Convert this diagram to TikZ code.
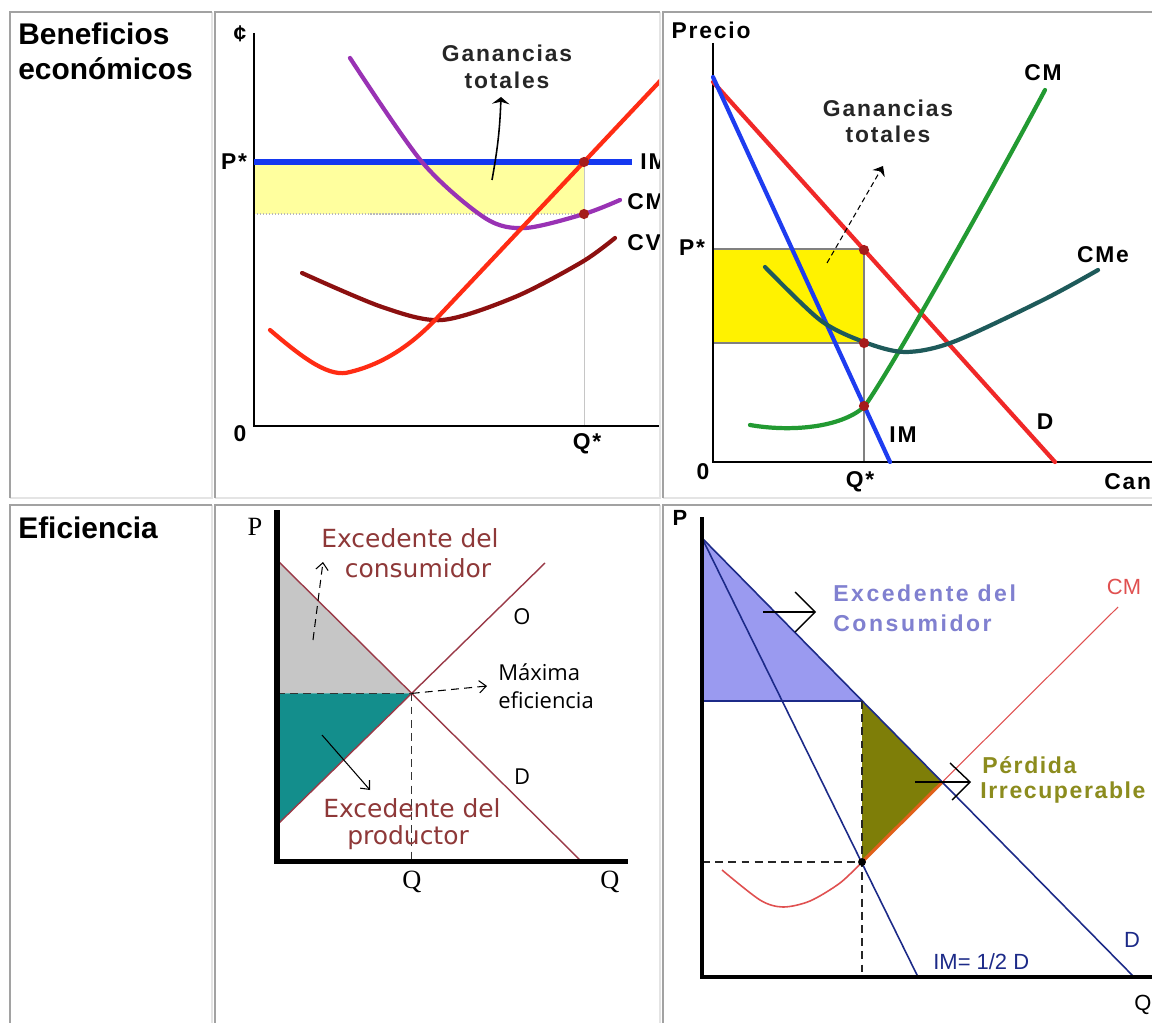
\documentclass[tikz,border=0pt]{standalone}
\usepackage{fontspec}
\setmainfont{Liberation Sans}
\newfontfamily\lsb[LetterSpace=8]{Liberation Sans}
\newfontfamily\lsbw[LetterSpace=11]{Liberation Sans}
\newfontfamily\lsbo[LetterSpace=7]{Liberation Sans}
\newfontfamily\dvs{DejaVu Sans}
\newfontfamily\opens{Open Sans}
\newfontfamily\lserif{Liberation Serif}
\usetikzlibrary{arrows.meta,calc}
\definecolor{celldark}{HTML}{A2A2A2}
\definecolor{celllight}{HTML}{E4E4E4}
\definecolor{lightyel}{HTML}{FFFF9E}
\definecolor{imblue}{HTML}{1438F0}
\definecolor{purp}{HTML}{9932B4}
\definecolor{cvred}{HTML}{8C1010}
\definecolor{cmred}{HTML}{FF2C14}
\definecolor{dotred}{HTML}{A51C1C}
\definecolor{dred}{HTML}{F02828}
\definecolor{dblue}{HTML}{1E3CF0}
\definecolor{cmgreen}{HTML}{229A32}
\definecolor{cmeteal}{HTML}{1E5A5A}
\definecolor{csgray}{HTML}{C6C6C6}
\definecolor{psteal}{HTML}{138E8C}
\definecolor{linethree}{HTML}{9A3A48}
\definecolor{txtthree}{HTML}{8E3838}
\definecolor{csblue}{HTML}{9A9AF0}
\definecolor{dwolive}{HTML}{7E7E08}
\definecolor{linefour}{HTML}{1C2A88}
\definecolor{redfour}{HTML}{E05050}
\definecolor{txtblue}{HTML}{8080D0}
\definecolor{txtolive}{HTML}{8C8C1E}
\definecolor{orangefour}{HTML}{E0601A}
\begin{document}
\begin{tikzpicture}[x=0.02cm,y=-0.02cm,
  cdark/.style={draw=celldark,line width=0.85pt},
  clight/.style={draw=celllight,line width=0.85pt},
  hdr/.style={font=\fontsize{17}{20}\selectfont\bfseries,inner sep=0pt,anchor=base west},
  blab/.style={font=\lsb\fontsize{13}{15}\selectfont\bfseries,inner sep=0pt},
  glab/.style={font=\lsb\fontsize{13}{15}\selectfont\bfseries,inner sep=0pt,text=black!85},
  thick curve/.style={line width=2.4pt,line cap=round,line join=round},
  rdot/.style={circle,fill=dotred,inner sep=0pt,minimum size=5.8pt},
  exthree/.style={font=\dvs\fontsize{14.2}{16}\selectfont,text=txtthree,inner sep=0pt},
  osl/.style={font=\opens\fontsize{12.5}{14}\selectfont,inner sep=0pt},
  exfour/.style={font=\lsbw\fontsize{13.1}{15}\selectfont\bfseries,inner sep=0pt,anchor=west},
  olfour/.style={font=\lsbo\fontsize{13.1}{15}\selectfont\bfseries,inner sep=0pt,anchor=west,text=txtolive},
  thinlab/.style={font=\fontsize{12.5}{14}\selectfont,inner sep=0pt},
  barb/.style={-{Straight Barb[length=4pt,width=7pt]}},
  dsh/.style={dash pattern=on 4.5pt off 3pt}
]
\useasboundingbox (0,0) rectangle (1152,1023);
\fill[white] (0,0) rectangle (1152,1023);

% ---------- table cells ----------
\draw[clight] (212,12) -- (212,498) -- (10,498);
\draw[cdark] (10,498) -- (10,12) -- (212,12);
\draw[clight] (660,12) -- (660,498) -- (215,498);
\draw[cdark] (215,498) -- (215,12) -- (660,12);
\draw[clight] (663,498) -- (1152,498);
\draw[cdark] (663,498) -- (663,12) -- (1152,12);
\draw[clight] (212,505) -- (212,1023);
\draw[cdark] (10,1023) -- (10,505) -- (212,505);
\draw[clight] (660,505) -- (660,1023);
\draw[cdark] (215,1023) -- (215,505) -- (660,505);
\draw[cdark] (663,1023) -- (663,505) -- (1152,505);

\node[hdr] (h1a) at (18,45) {Beneficios};
\node[hdr] (h1b) at (18,80) {económicos};
\node[hdr] (h2) at (18,538) {Eficiencia};

% ---------- panel 1 ----------
\begin{scope}
\clip (216,13) rectangle (659,497);
\fill[lightyel] (254,162) rectangle (584,214);
\draw[gray!55,densely dotted,line width=0.7pt] (254,214) -- (584,214);
\draw[gray!45,line width=0.5pt] (584,162) -- (584,426);
\draw[black,line width=0.9pt] (254,33) -- (254,426) -- (659,426);
\draw[imblue,line width=3.4pt] (254,162) -- (632,162);
\draw[cvred,thick curve] plot[smooth] coordinates {(302,273) (382,307) (442,320) (515,297) (582,262) (615,238)};
\draw[purp,thick curve] plot[smooth] coordinates {(350,58) (422,162) (485,218) (525,228) (584,214) (620,200)};
\draw[cmred,thick curve] (270,330) .. controls (305,360) and (330,378) .. (350,372) .. controls (375,366) and (405,352) .. (437,318) -- (662,79);
\node[rdot] (p1d1) at (584,162) {};
\node[rdot] (p1d2) at (584,214) {};
\node[blab] (p1c) at (240,34) {¢};
\node[blab] (p1p) at (234,162) {P*};
\node[blab] (p1z) at (240,434) {0};
\node[blab] (p1q) at (587,444) {Q*};
\node[blab,anchor=west] (p1im) at (640,162) {IM};
\node[blab,anchor=west] (p1cm) at (627,202) {CM};
\node[blab,anchor=west] (p1cv) at (627,243) {CV};
\node[glab] (p1g1) at (507,53) {Ganancias};
\node[glab] (p1g2) at (507,80) {totales};
\coordinate (p1as) at (492,180);
\coordinate (p1ae) at (501,97);
\draw[line width=0.9pt,-{Stealth[length=4pt,width=10pt]}] (p1as) to[bend right=4] (p1ae);
\end{scope}

% ---------- panel 2 ----------
\begin{scope}
\clip (664,13) rectangle (1152,497);
\fill[yellow] (713,249) rectangle (864,343);
\draw[gray,line width=0.6pt] (713,249) -- (864,249) -- (864,462);
\draw[gray,line width=0.6pt] (713,343) -- (864,343);
\draw[black,line width=1.2pt] (713,43) -- (713,462) -- (1152,462);
\draw[dred,thick curve] (713,82) -- (1055,462);
\draw[dblue,thick curve] (713,77) -- (890,462);
\draw[cmgreen,thick curve] (750,425) .. controls (790,432) and (840,428) .. (864,407) .. controls (890,372) and (1000,175) .. (1045,90);
\draw[cmeteal,thick curve] plot[smooth] coordinates {(765,267) (820,320) (864,342) (905,352) (953,342) (1043,300) (1098,270)};
\node[rdot] (p2d1) at (864,250) {};
\node[rdot] (p2d2) at (864,343) {};
\node[rdot] (p2d3) at (864,406) {};
\node[blab] (p2pr) at (711,30) {Precio};
\node[blab] (p2cm) at (1043,73) {CM};
\node[blab] (p2p) at (692,248) {P*};
\node[blab] (p2cme) at (1103,255) {CMe};
\node[blab] (p2im) at (903,435) {IM};
\node[blab] (p2d) at (1045,422) {D};
\node[blab] (p2z) at (703,472) {0};
\node[blab] (p2q) at (860,482) {Q*};
\node[blab,anchor=west] (p2can) at (1104,482) {Can};
\node[glab] (p2g1) at (888,108) {Ganancias};
\node[glab] (p2g2) at (888,134) {totales};
\coordinate (p2as) at (827,263);
\coordinate (p2ae) at (883,166);
\draw[line width=0.6pt,densely dashed,-{Stealth[length=5pt,width=8pt]}] (p2as) -- (p2ae);
\end{scope}

% ---------- panel 3 ----------
\begin{scope}
\clip (216,506) rectangle (659,1023);
\coordinate (eq) at (411.7,693.4);
\fill[csgray] (277,560) -- (eq) -- (277,693.4) -- cycle;
\fill[psteal] (277,693.4) -- (eq) -- (277,825) -- cycle;
\draw[linethree,line width=0.8pt] (277,560) -- (580,860);
\draw[linethree,line width=0.8pt] (277,825) -- (545,563);
\draw[black!80,dsh,line width=0.7pt] (277,693.4) -- (eq);
\draw[black!80,dsh,line width=0.7pt] (eq) -- (411.7,860);
\draw[black,line width=3.2pt] (277,510) -- (277,861.5) -- (628,861.5);
\node[font=\lserif\fontsize{15}{17}\selectfont,inner sep=0pt] (p3p) at (255,527) {P};
\node[font=\lserif\fontsize{15}{17}\selectfont,inner sep=0pt] (p3q1) at (412,882) {Q};
\node[font=\lserif\fontsize{15}{17}\selectfont,inner sep=0pt] (p3q2) at (610,882) {Q};
\node[exthree] (p3e1) at (410,538) {Excedente del};
\node[exthree] (p3e2) at (418,568) {consumidor};
\node[exthree] (p3e3) at (412,808) {Excedente del};
\node[exthree] (p3e4) at (408,838) {productor};
\node[osl,text=black] (p3o) at (522,617) {O};
\node[osl,text=black] (p3d) at (522,777) {D};
\node[osl,anchor=west] (p3m1) at (498,672) {Máxima};
\node[osl,anchor=west] (p3m2) at (498,700) {eficiencia};
\coordinate (p3a1s) at (313,640);
\coordinate (p3a1e) at (323,562);
\draw[line width=0.6pt,dsh,barb] (p3a1s) -- (p3a1e);
\coordinate (p3a2e) at (487,686);
\draw[line width=0.6pt,dsh,barb] (eq) -- (p3a2e);
\coordinate (p3a3s) at (322,735);
\coordinate (p3a3e) at (370,790);
\draw[line width=0.6pt,barb] (p3a3s) -- (p3a3e);
\end{scope}

% ---------- panel 4 ----------
\begin{scope}
\clip (664,506) rectangle (1152,1023);
\coordinate (top) at (702,538);
\coordinate (pm) at (862,701);
\coordinate (qm) at (862,862);
\coordinate (dw) at (942.3,782.2);
\fill[csblue] (top) -- (pm) -- (702,701) -- cycle;
\fill[dwolive] (pm) -- (dw) -- (qm) -- cycle;
\draw[redfour,line width=0.6pt] (qm) -- (1118,607);
\draw[orangefour,line width=1.8pt] (qm) -- (dw);
\draw[redfour,line width=0.9pt] plot[smooth] coordinates {(722,870) (760,900) (783,907) (810,901) (840,883) (862,862)};
\draw[linefour,line width=0.9pt] (top) -- (1134,977);
\draw[linefour,line width=0.9pt] (top) -- (918,977);
\draw[linefour,line width=0.9pt] (702,701) -- (pm);
\draw[black!85,dsh,line width=0.9pt] (pm) -- (862,977);
\draw[black!85,dsh,line width=0.9pt] (702,862) -- (qm);
\node[circle,fill=black,inner sep=0pt,minimum size=4.5pt] (p4dot) at (qm) {};
\draw[black,line width=2.4pt] (702,517) -- (702,977) -- (1152,977);
\node[font=\fontsize{12.5}{14}\selectfont\bfseries,inner sep=0pt] (p4p) at (680,518) {P};
\node[thinlab,text=redfour] (p4cm) at (1124,587) {CM};
\node[exfour,text=txtblue] (p4e1) at (833,593) {Excedente del};
\node[exfour,text=txtblue] (p4e2) at (833,623) {Consumidor};
\node[olfour] (p4l1) at (982,765) {Pérdida};
\node[olfour] (p4l2) at (980,793) {Irrecuperable};
\node[thinlab,text=linefour] (p4d) at (1132,940) {D};
\node[thinlab,text=linefour,anchor=west] (p4im) at (933,962) {IM= 1/2 D};
\node[thinlab] (p4q) at (1143,1005) {Q};
\coordinate (p4a1s) at (763,612);
\coordinate (p4a1e) at (815,612);
\draw[black,line width=0.8pt] (p4a1s) -- (p4a1e);
\draw[black,line width=0.8pt] ($(p4a1e)+(-20,-20)$) -- (p4a1e) -- ($(p4a1e)+(-20,20)$);
\coordinate (p4a2s) at (915,782);
\coordinate (p4a2e) at (970,782);
\draw[black,line width=0.8pt] (p4a2s) -- (p4a2e);
\draw[black,line width=0.8pt] ($(p4a2e)+(-20,-19)$) -- (p4a2e) -- ($(p4a2e)+(-18,18)$);
\end{scope}
\end{tikzpicture}
\end{document}
